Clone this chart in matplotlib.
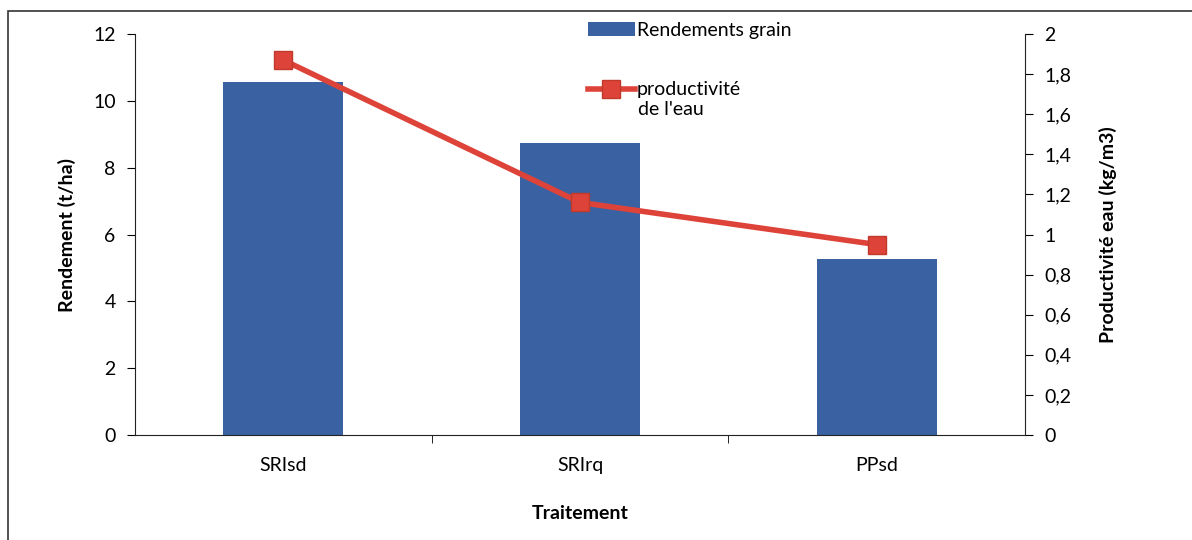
import matplotlib.pyplot as plt
from matplotlib.patches import Rectangle
from matplotlib.ticker import FuncFormatter

plt.rcParams['font.family'] = ['Lato', 'DejaVu Sans']

# Data
traitements = ['SRIsd', 'SRIrq', 'PPsd']
rendement = [10.56, 8.74, 5.27]          # t/ha
productivite = [1.87, 1.16, 0.95]        # kg/m3

bar_color = '#3A62A2'
line_color = '#DD4338'
fs = 14

fig = plt.figure(figsize=(11.92, 5.4), dpi=100)
ax1 = fig.add_axes([0.1133, 0.1944, 0.7466, 0.7426])
ax2 = ax1.twinx()

x = range(len(traitements))
bars = ax1.bar(x, rendement, width=0.405, color=bar_color, label='Rendements grain', zorder=2)
line, = ax2.plot(x, productivite, color=line_color, linewidth=4, marker='s', markersize=13,
                 markerfacecolor=line_color, markeredgecolor='#C0392B', label='productivité', zorder=3)

ax1.set_xlim(-0.5, 2.5)
ax1.set_ylim(0, 12)
ax2.set_ylim(0, 2)
ax1.set_yticks(range(0, 13, 2))
ax2.set_yticks([i * 0.2 for i in range(11)])
ax2.yaxis.set_major_formatter(FuncFormatter(lambda v, p: ('%g' % round(v, 1)).replace('.', ',')))

ax1.set_xticks(list(x))
ax1.set_xticklabels(traitements)
ax1.set_xticks([0.5, 1.5], minor=True)
ax1.tick_params(axis='x', which='major', length=0, pad=16, labelsize=fs)
ax1.tick_params(axis='x', which='minor', length=6, direction='out')
ax1.tick_params(axis='y', direction='out', length=6, labelsize=fs, pad=8)
ax2.tick_params(axis='y', direction='out', length=6, labelsize=fs, pad=8)

for ax in (ax1, ax2):
    ax.spines['top'].set_visible(False)
    for s in ax.spines.values():
        s.set_color('#222222')
ax2.spines['left'].set_visible(False)
ax2.spines['bottom'].set_visible(False)
ax1.spines['right'].set_visible(False)

ax1.set_ylabel('Rendement (t/ha)', fontsize=fs, fontweight='bold', labelpad=12)
ax2.set_ylabel('Productivité eau (kg/m3)', fontsize=fs, fontweight='bold', labelpad=20)
ax1.set_xlabel('Traitement', fontsize=fs, fontweight='bold', labelpad=22)

leg = fig.legend(handles=[bars, line], loc='upper left', bbox_to_anchor=(0.482, 0.985),
                 frameon=False, fontsize=fs, labelspacing=2.2, handlelength=2.4,
                 handletextpad=0.1, borderaxespad=0.3)
# second line of the water-productivity legend entry
fig.text(0.5355, 0.798, "de l'eau", fontsize=fs, va='center', ha='left')

# outer chart frame
fig.add_artist(Rectangle((0.007, -0.05), 1.5, 1.03, transform=fig.transFigure,
                         fill=False, edgecolor='#333333', linewidth=1.2))

fig.savefig('out.png', dpi=100)
